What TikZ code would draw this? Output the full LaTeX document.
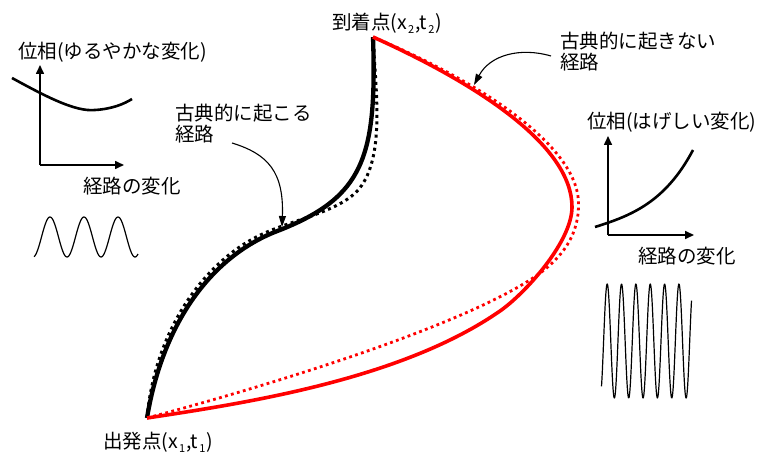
\documentclass[tikz,border=0pt]{standalone}
\usepackage{fontspec}
\setmainfont{Noto Sans CJK JP}
\usetikzlibrary{arrows.meta}
\newcommand{\lowsub}[1]{\hspace{1.2pt}\raisebox{-3.5pt}{\fontsize{11}{11}\selectfont #1}\hspace{1.2pt}}
\begin{document}
\begin{tikzpicture}[x=1pt,y=-1pt,line join=round,line cap=butt,
  lbl/.style={font=\fontsize{19.5}{21}\selectfont,inner sep=0pt,outer sep=0pt,anchor=west,text height=16.5pt,text depth=3pt},
  lbl2/.style={font=\fontsize{19.5}{21}\selectfont,inner sep=0pt,outer sep=0pt,anchor=north west,align=left},
  pathsolid/.style={line width=4.3pt},
  pathdot/.style={line width=3pt,dash pattern=on 3pt off 3.6pt},
  redsolid/.style={red,line width=3.6pt},
  reddot/.style={red,line width=2.8pt,dash pattern=on 2.8pt off 3.4pt},
  axis/.style={line width=1.6pt,-{Triangle[length=9pt,width=8pt]}},
  phase/.style={line width=2.6pt},
  wave/.style={line width=1.2pt},
  note/.style={line width=1.1pt,-{Triangle[length=11pt,width=7pt]}}]
\useasboundingbox (0,0) rectangle (759,457);

% end points
\coordinate (A) at (147,418);
\coordinate (B) at (373,37);

% classical path (black)
\draw[pathdot] (A) .. controls (155,330) and (205,258) .. (267,232)
  .. controls (299,218) and (345.5,210) .. (362,185)
  .. controls (384,152) and (376,92) .. (B);
\draw[pathsolid] (A) .. controls (163,322) and (212,255) .. (280,230)
  .. controls (363.7,196.7) and (377,157) .. (B);

% non-classical path (red)
\draw[reddot] (B) .. controls (490,86) and (580,150) .. (578.5,205)
  .. controls (578.5,240) and (556.5,262.6) .. (533,278)
  .. controls (449,333) and (234,395) .. (A);
\draw[redsolid] (B) .. controls (482,86) and (572,147) .. (572,207)
  .. controls (572,242) and (524.6,293.9) .. (500,311)
  .. controls (401.6,379.4) and (246,403) .. (A);

% labels of end points
\node[lbl] (end) at (332,23) {到着点(x\lowsub{2},t\lowsub{2})};
\node[lbl] (start) at (103,442) {出発点(x\lowsub{1},t\lowsub{1})};

% annotations
\node[lbl2] (cl) at (175,104) {古典的に起こる\\経路};
\node[lbl2] (ncl) at (560,32) {古典的に起きない\\経路};
\coordinate (clS) at (232,143);
\coordinate (clT) at (282,227);
\draw[note] (clS) .. controls (268,154) and (284,172) .. (clT);
\coordinate (nclS) at (551,56);
\coordinate (nclT) at (474,85);
\draw[note] (nclS) .. controls (520,47) and (490,55) .. (nclT);

% left inset: slow phase change
\node[lbl] (lt) at (18,52) {位相(ゆるやかな変化)};
\coordinate (lo) at (40,165);
\coordinate (ly) at (40,65);
\coordinate (lx) at (124,165);
\draw[axis] (lo) -- (ly);
\draw[axis] (lo) -- (lx);
\draw[phase] (12,78) .. controls (45,96) and (75,112) .. (95,110) .. controls (112,109) and (124,104) .. (132,99);
\node[lbl] (lxl) at (83,187) {経路の変化};
\draw[wave] plot[domain=34:138,samples=120,smooth] (\x,{237-20*sin(10.588*(\x-41.5))});

% right inset: rapid phase change
\node[lbl] (rt) at (587,122) {位相(はげしい変化)};
\coordinate (ro) at (608,235);
\coordinate (ry) at (608,136);
\coordinate (rx) at (694,235);
\draw[axis] (ro) -- (ry);
\draw[axis] (ro) -- (rx);
\draw[phase] (595,227) .. controls (630,216) and (665,203) .. (693,150);
\node[lbl] (rxl) at (638,257) {経路の変化};
\draw[wave] plot[domain=601.5:691.5,samples=300,smooth] (\x,{341-57*sin(25.087*(\x-603.6))});
\end{tikzpicture}
\end{document}
